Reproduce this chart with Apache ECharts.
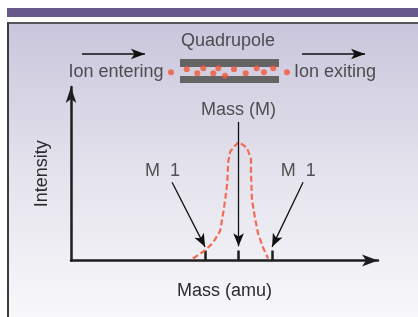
<!DOCTYPE html>
<html>
<head>
<meta charset="utf-8">
<script src="https://cdn.jsdelivr.net/npm/echarts@6/dist/echarts.min.js"></script>
<style>
html,body{margin:0;padding:0;background:#fff;}
#chart{width:418px;height:317px;}
</style>
</head>
<body>
<div id="chart"></div>
<script>
// ---- Data ----
// Mass peak (mass offset from M in amu, relative intensity %)
const peakMass      = [-1.36, -1.0, -0.76, -0.55, -0.46, -0.40, -0.34, -0.31, -0.25, -0.10, 0.01, 0.25, 0.37, 0.37, 0.40, 0.49, 0.58, 0.73, 0.88];
const peakIntensity = [1.7, 8.5, 15, 25, 40, 51, 65, 83, 92, 97, 100, 95, 86, 74, 51, 36, 23, 11, 1.7];
// Tick marks on the mass axis (M-1, M, M+1)
const tickMasses = [-1, 0, 1];
// Annotation labels and their anchor points
const annotationText      = ['M  1', 'Mass (M)', 'M  1'];
const annotationMass      = [-2.27, 0.0, 1.78];
const annotationIntensity = [75.5, 127, 75.5];
// Annotation arrows: start -> tip
const arrowFromMass      = [-1.985, 0.0, 1.925];
const arrowFromIntensity = [66, 117, 66];
const arrowToMass        = [-1.0, 0.0, 1.0];
const arrowToIntensity   = [11.5, 12, 11.5];
// Quadrupole diagram: ion positions (rod-length units, transverse offset)
const ionPos    = [-0.91, 0.68, 1.75, 2.35, 3.36, 3.87, 4.55, 5.45, 6.64, 7.75, 8.48, 9.42, 10.81];
const ionOffset = [-0.11, 0.14, -0.19, 0.23, -0.19, 0.23, -0.39, 0.14, -0.19, 0.23, -0.11, 0.23, -0.11];
const rodLength = [0, 10];
const topRod = [0.33, 1.0];
const bottomRod = [-1.0, -0.42];
const diagramText   = ['Quadrupole', 'Ion entering', 'Ion exiting'];
const diagramTextX  = [4.85, -6.46, 15.66];
const diagramTextY  = [2.5, -0.08, -0.08];
const flowArrowFromX = [-9.9, 12.32];
const flowArrowToX   = [-3.54, 18.69];
const flowArrowY     = 1.42;

const FONT = '"Liberation Sans", Arial, sans-serif';
const TEXT = '#2b2b2b';
const FS = 18;

const chart = echarts.init(document.getElementById('chart'), null, {renderer: 'canvas'});

const option = {
  backgroundColor: '#ffffff',
  animation: false,
  graphic: [
    {type: 'rect', z: -10, silent: true, shape: {x: 7, y: 8, width: 411, height: 9}, style: {fill: '#675a8b'}},
    {type: 'rect', z: -10, silent: true, shape: {x: 9, y: 24, width: 409, height: 293},
      style: {fill: new echarts.graphic.LinearGradient(0, 0, 0, 1, [
        {offset: 0, color: '#cac6dc'},
        {offset: 0.5, color: '#e4e2ec'},
        {offset: 1, color: '#f8f8fa'}
      ])}},
    {type: 'rect', z: -9, silent: true, shape: {x: 7, y: 22, width: 411, height: 2}, style: {fill: '#57565c'}},
    {type: 'rect', z: -9, silent: true, shape: {x: 7, y: 22, width: 2, height: 295}, style: {fill: '#3c3c40'}}
  ],
  grid: [
    {left: 71, top: 87, width: 307, height: 173.5, outerBoundsMode: 'none', containLabel: false},
    {left: 61.2, top: 35, width: 316.8, height: 48, outerBoundsMode: 'none', containLabel: false}
  ],
  xAxis: [
    {
      type: 'value', gridIndex: 0, min: -5, max: 4.16,
      name: 'Mass (amu)', nameLocation: 'middle', nameGap: 22,
      nameTextStyle: {fontFamily: FONT, fontSize: FS, color: TEXT, padding: [0, 0, 0, 0]},
      axisLine: {show: true, onZero: false, symbol: ['none', 'arrow'], symbolSize: [9, 16],
        lineStyle: {color: '#1e1e1e', width: 2.5}},
      axisTick: {show: true, inside: true, length: 10, customValues: tickMasses, lineStyle: {color: '#1e1e1e', width: 2.5}},
      axisLabel: {show: false},
      splitLine: {show: false}
    },
    {type: 'value', gridIndex: 1, min: -12, max: 20, show: false}
  ],
  yAxis: [
    {
      type: 'value', gridIndex: 0, min: 0, max: 146.4,
      name: 'Intensity', nameLocation: 'middle', nameGap: 20, nameRotate: 90,
      nameTextStyle: {fontFamily: FONT, fontSize: FS, color: TEXT},
      axisLine: {show: true, onZero: false, symbol: ['none', 'arrow'], symbolSize: [8, 16],
        lineStyle: {color: '#1e1e1e', width: 2.5}},
      axisTick: {show: false}, axisLabel: {show: false}, splitLine: {show: false}
    },
    {type: 'value', gridIndex: 1, min: -1, max: 3, show: false}
  ],
  series: [
    {
      type: 'line', xAxisIndex: 0, yAxisIndex: 0,
      data: peakMass.map((m, i) => [m, peakIntensity[i]]),
      symbol: 'none', smooth: false,
      lineStyle: {color: '#f26b55', width: 2.2, type: [6, 3]},
      z: 3
    },
    {
      type: 'scatter', xAxisIndex: 0, yAxisIndex: 0,
      data: annotationMass.map((m, i) => ({value: [m, annotationIntensity[i]], name: annotationText[i]})),
      symbolSize: 0, clip: false,
      label: {show: true, position: 'inside', formatter: p => p.name, fontFamily: FONT, fontSize: FS, color: TEXT},
      markLine: {
        silent: true, symbol: ['none', 'arrow'], symbolSize: [8, 13],
        label: {show: false},
        lineStyle: {color: '#111', width: 1.3, type: 'solid'},
        data: arrowFromMass.map((m, i) => [
          {coord: [m, arrowFromIntensity[i]]},
          {coord: [arrowToMass[i], arrowToIntensity[i]]}
        ])
      },
      z: 4
    },
    {
      type: 'scatter', xAxisIndex: 1, yAxisIndex: 1,
      data: ionPos.map((x, i) => [x, ionOffset[i]]),
      symbol: 'circle', symbolSize: 6, clip: false,
      itemStyle: {color: '#f2553a'},
      markArea: {
        silent: true,
        itemStyle: {color: '#646464'},
        data: [
          [{coord: [rodLength[0], topRod[0]]}, {coord: [rodLength[1], topRod[1]]}],
          [{coord: [rodLength[0], bottomRod[0]]}, {coord: [rodLength[1], bottomRod[1]]}]
        ]
      },
      markLine: {
        silent: true, symbol: ['none', 'arrow'], symbolSize: [8, 14],
        label: {show: false},
        lineStyle: {color: '#111', width: 1.5, type: 'solid'},
        data: flowArrowFromX.map((x, i) => [
          {coord: [x, flowArrowY]},
          {coord: [flowArrowToX[i], flowArrowY]}
        ])
      },
      z: 5
    },
    {
      type: 'scatter', xAxisIndex: 1, yAxisIndex: 1,
      data: diagramTextX.map((x, i) => ({value: [x, diagramTextY[i]], name: diagramText[i]})),
      symbolSize: 0, clip: false,
      label: {show: true, position: 'inside', formatter: p => p.name, fontFamily: FONT, fontSize: FS, color: TEXT},
      z: 6
    }
  ]
};
chart.setOption(option);
</script>
</body>
</html>
